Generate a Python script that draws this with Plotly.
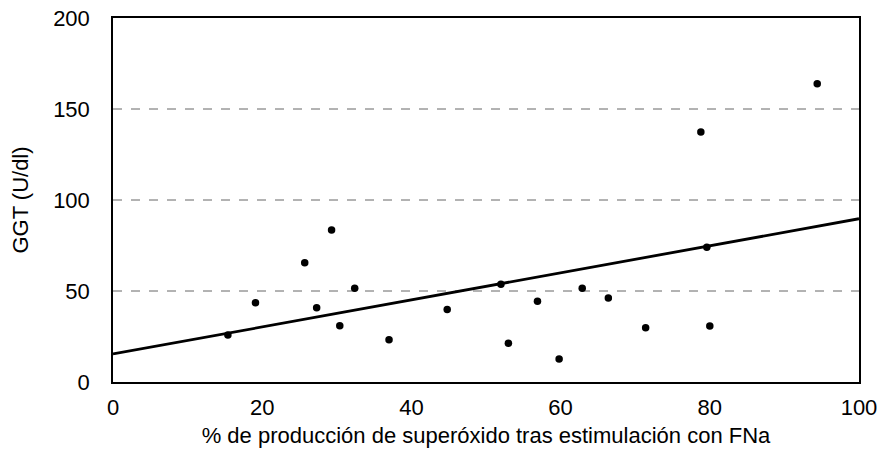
import plotly.graph_objects as go

superoxide_pct = [15.4, 19.1, 25.7, 29.3, 27.3, 30.4, 32.4, 37.0, 44.8, 52.0, 53.0,
                  56.9, 59.8, 62.9, 66.4, 71.4, 79.6, 80.0, 78.8, 94.4]
ggt = [25.8, 43.6, 65.5, 83.5, 40.8, 30.9, 51.5, 23.2, 39.9, 53.7, 21.3,
       44.3, 12.6, 51.5, 46.2, 29.8, 74.0, 30.8, 137.4, 163.9]

fit_intercept = 15.4
fit_slope = 0.743
fit_x = [0, 100]
fit_y = [fit_intercept + fit_slope * v for v in fit_x]

x_ticks = [0, 20, 40, 60, 80, 100]
y_ticks = [0, 50, 100, 150, 200]

fig = go.Figure()
fig.add_trace(go.Scatter(x=fit_x, y=fit_y, mode="lines",
                         line=dict(color="black", width=2.8), showlegend=False, cliponaxis=False))
fig.add_trace(go.Scatter(x=superoxide_pct, y=ggt, mode="markers",
                         marker=dict(color="black", size=7.5), showlegend=False))

for g in [50, 100, 150]:
    fig.add_shape(type="line", xref="paper", x0=0, x1=1, yref="y", y0=g, y1=g,
                  line=dict(color="#666666", width=1, dash="dash"), layer="below")

font = "Liberation Sans, Arial, sans-serif"
fig.update_layout(
    width=881, height=451,
    margin=dict(l=113, r=22, t=18, b=69),
    paper_bgcolor="white", plot_bgcolor="white",
    font=dict(family=font, color="black", size=22),
    xaxis=dict(range=[0, 100], tickvals=x_ticks, showgrid=False, zeroline=False,
               showline=True, linecolor="black", linewidth=1.5, mirror=True,
               ticks="outside", ticklen=5, tickcolor="rgba(0,0,0,0)",
               tickfont=dict(size=22), automargin=False, ticklabeloverflow="allow",
               title=dict(text="% de producción de superóxido tras estimulación con FNa",
                          font=dict(size=22), standoff=8)),
    yaxis=dict(range=[0, 200], tickvals=y_ticks, showgrid=False, zeroline=False,
               showline=True, linecolor="black", linewidth=1.5, mirror=True,
               ticks="outside", ticklen=17, tickcolor="rgba(0,0,0,0)",
               tickfont=dict(size=22), automargin=False, ticklabeloverflow="allow",
               title=dict(text="GGT (U/dl)", font=dict(size=22), standoff=18)),
)
fig.write_html("out.html", config={"displayModeBar": False},
               post_script="document.body.style.margin='0';document.body.style.overflow='hidden';")
